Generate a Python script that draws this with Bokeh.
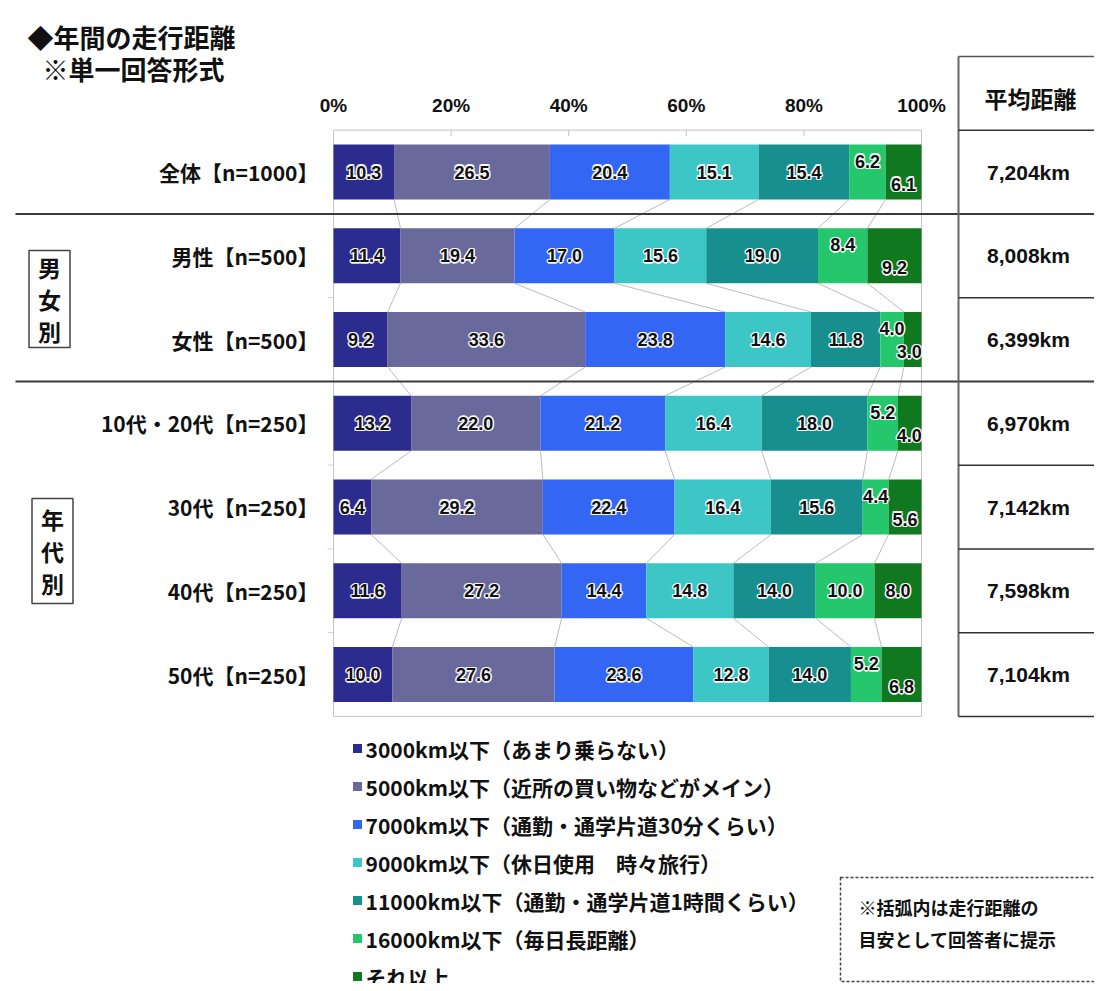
from bokeh.plotting import figure
from bokeh.models import Range1d, ColumnDataSource
from bokeh.core.properties import value
from bokeh.embed import file_html
from bokeh.resources import INLINE

# ---------------- data ----------------
title_text = "◆年間の走行距離"
subtitle_text = "※単一回答形式"
categories = ["全体【n=1000】", "男性【n=500】", "女性【n=500】", "10代・20代【n=250】",
              "30代【n=250】", "40代【n=250】", "50代【n=250】"]
series_names = ["3000km以下（あまり乗らない）", "5000km以下（近所の買い物などがメイン）",
                "7000km以下（通勤・通学片道30分くらい）", "9000km以下（休日使用　時々旅行）",
                "11000km以下（通勤・通学片道1時間くらい）", "16000km以下（毎日長距離）", "それ以上"]
s3000 = [10.3, 11.4, 9.2, 13.2, 6.4, 11.6, 10.0]
s5000 = [26.5, 19.4, 33.6, 22.0, 29.2, 27.2, 27.6]
s7000 = [20.4, 17.0, 23.8, 21.2, 22.4, 14.4, 23.6]
s9000 = [15.1, 15.6, 14.6, 16.4, 16.4, 14.8, 12.8]
s11000 = [15.4, 19.0, 11.8, 18.0, 15.6, 14.0, 14.0]
s16000 = [6.2, 8.4, 4.0, 5.2, 4.4, 10.0, 5.2]
s_more = [6.1, 9.2, 3.0, 4.0, 5.6, 8.0, 6.8]
avg_distance = ["7,204km", "8,008km", "6,399km", "6,970km", "7,142km", "7,598km", "7,104km"]
table_header = "平均距離"
tick_values = [0, 20, 40, 60, 80, 100]
tick_labels = ["0%", "20%", "40%", "60%", "80%", "100%"]
group_labels = ["男\n女\n別", "年\n代\n別"]
note_lines = ["※括弧内は走行距離の", "目安として回答者に提示"]

series = [s3000, s5000, s7000, s9000, s11000, s16000, s_more]
colors = ["#2c2c8e", "#69699c", "#3366f2", "#3cc6c6", "#178f8f", "#25c76c", "#10781f"]

# ---------------- layout helpers ----------------
W, H = 1094, 983
PX0 = 333.0          # image x of 0 %
PXPCT = 5.88         # pixels per percent
PY0 = 171.5          # image y of first row
PITCH = 83.75        # pixels per row


def dx(X):
    return (X - PX0) / PXPCT


def dy(Y):
    return (Y - PY0) / PITCH


CJK = value("Noto Sans CJK JP")
LAT = value("Liberation Sans")

p = figure(width=W, height=H, output_backend="svg", toolbar_location=None,
           x_range=Range1d(dx(0), dx(W)), y_range=Range1d(dy(H), dy(0)),
           x_axis_location=None, y_axis_location=None, min_border=0,
           outline_line_color=None, background_fill_color="white", border_fill_color="white")
p.grid.visible = False

rows = list(range(len(categories)))
bar_h = 55.0 / PITCH

# frame
p.quad(left=[0], right=[100], top=[-0.5], bottom=[len(rows) - 0.5],
       fill_color=None, line_color="#c4c4c4", line_width=1)
p.segment(x0=tick_values[1:-1], x1=tick_values[1:-1], y0=[-0.5] * 4, y1=[-0.5 + 6 / PITCH] * 4,
          line_color="#c4c4c4", line_width=1)
p.segment(x0=[dx(327)] * 6, x1=[0] * 6, y0=[r + 0.5 for r in rows[:-1]], y1=[r + 0.5 for r in rows[:-1]],
          line_color="#d0d0d0", line_width=1)

# cumulative boundaries
cums = []
acc = [0.0] * len(rows)
for s in series:
    left = acc[:]
    acc = [a + v for a, v in zip(acc, s)]
    cums.append((left, acc[:]))

# connector lines between consecutive bars
cx0, cx1, cy0, cy1 = [], [], [], []
for k in range(len(series) - 1):
    right = cums[k][1]
    for i in rows[:-1]:
        cx0.append(right[i]); cy0.append(i + bar_h / 2)
        cx1.append(right[i + 1]); cy1.append(i + 1 - bar_h / 2)
p.segment(x0=cx0, y0=cy0, x1=cx1, y1=cy1, line_color="#bcbcbc", line_width=1)

# bars
for k, s in enumerate(series):
    left, right = cums[k]
    p.hbar(y=rows, left=left, right=right, height=bar_h, fill_color=colors[k], line_color=None)

# value labels
lx, ly, lt = [], [], []
for k, s in enumerate(series):
    left, right = cums[k]
    for i in rows:
        xc = min((left[i] + right[i]) / 2, 97.9)
        yc = i
        if s16000[i] < 9:
            if k == 5:
                yc = i - 11 / PITCH
            elif k == 6:
                yc = i + 12 / PITCH
        lx.append(xc); ly.append(yc); lt.append(f"{s[i]:.1f}")
lsrc = ColumnDataSource(dict(x=lx, y=ly, t=lt))
for ox, oy in [(-1.5, 0), (1.5, 0), (0, -1.5), (0, 1.5), (-1.2, -1.2), (1.2, 1.2), (-1.2, 1.2), (1.2, -1.2)]:
    p.text(x="x", y="y", text="t", source=lsrc, x_offset=ox, y_offset=oy, text_align="center",
           text_baseline="middle", text_font=LAT, text_font_style="bold", text_font_size="18px",
           text_color="white", text_alpha=0.75)
p.text(x="x", y="y", text="t", source=lsrc, text_align="center", text_baseline="middle",
       text_font=LAT, text_font_style="bold", text_font_size="18px", text_color="#111111")

# category labels
p.text(x=[dx(318)] * len(rows), y=rows, text=categories, text_align="right", text_baseline="middle",
       text_font=CJK, text_font_style="bold", text_font_size="21px", text_color="#111111")

# tick labels
p.text(x=tick_values, y=[dy(105)] * len(tick_values), text=tick_labels, text_align="center",
       text_baseline="middle", text_font=LAT, text_font_style="bold", text_font_size="19px",
       text_color="#111111")

# title
p.text(x=[dx(27), dx(42)], y=[dy(36), dy(68)], text=[title_text, subtitle_text], text_align="left",
       text_baseline="middle", text_font=CJK, text_font_style="bold", text_font_size="26px",
       text_color="#111111")

# separators (full width)
p.segment(x0=[dx(15)] * 2, x1=[dx(1110)] * 2, y0=[0.5, 2.5], y1=[0.5, 2.5],
          line_color="#3a3a3a", line_width=2)

# table on the right
tx = dx(958)
p.segment(x0=[tx], x1=[tx], y0=[dy(56)], y1=[len(rows) - 0.5], line_color="#666666", line_width=2)
p.segment(x0=[tx], x1=[dx(1110)], y0=[dy(56)], y1=[dy(56)], line_color="#555555", line_width=1.5)
tl = [-0.5, 1.5, 3.5, 4.5, 5.5, len(rows) - 0.5]
p.segment(x0=[tx] * len(tl), x1=[dx(1110)] * len(tl), y0=tl, y1=tl, line_color="#333333", line_width=1.5)
p.text(x=[dx(1030)], y=[dy(97)], text=[table_header], text_align="center", text_baseline="middle",
       text_font=CJK, text_font_style="bold", text_font_size="23px", text_color="#111111")
p.text(x=[dx(1028)] * len(rows), y=rows, text=avg_distance, text_align="center", text_baseline="middle",
       text_font=LAT, text_font_style="bold", text_font_size="21px", text_color="#111111")

# group boxes
gbx = [dx(28.5), dx(31.5)]
gbr = [dx(69.5), dx(72.5)]
gtop = [dy(250), dy(498)]
gbot = [dy(347), dy(603)]
p.quad(left=gbx, right=gbr, top=gtop, bottom=gbot, fill_color=None, line_color="#444444", line_width=1.5)
p.text(x=[(a + b) / 2 for a, b in zip(gbx, gbr)], y=[(a + b) / 2 for a, b in zip(gtop, gbot)],
       text=group_labels, text_align="center", text_baseline="middle", text_line_height=0.93,
       text_font=CJK, text_font_style="bold", text_font_size="23px", text_color="#111111")

# legend
ly0 = [dy(748 + 38 * j) for j in range(len(series_names))]
p.scatter(x=[dx(357)] * len(series_names), y=ly0, marker="square", size=9, fill_color=colors,
          line_color=None)
p.text(x=[dx(365)] * len(series_names), y=ly0, text=series_names, text_align="left",
       text_baseline="middle", text_font=CJK, text_font_style="bold", text_font_size="21px",
       text_color="#111111")

# note box
p.quad(left=[dx(840)], right=[dx(1120)], top=[dy(877)], bottom=[dy(981)], fill_color=None,
       line_color="#444444", line_width=1.5, line_dash="3 2")
p.text(x=[dx(858)] * 2, y=[dy(906), dy(938)], text=note_lines, text_align="left", text_baseline="middle",
       text_font=CJK, text_font_style="bold", text_font_size="18px", text_color="#111111")

open("out.html", "w").write(file_html(p, INLINE))
